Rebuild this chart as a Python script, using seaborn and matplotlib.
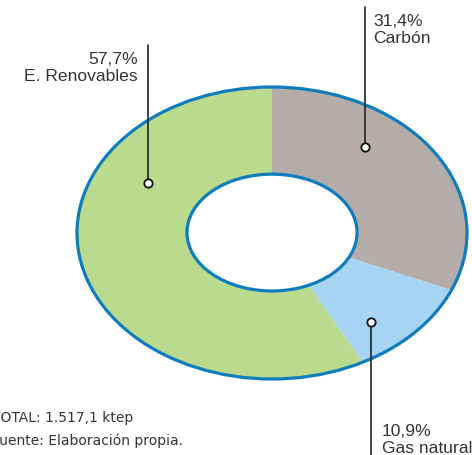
import numpy as np
import matplotlib.pyplot as plt
import matplotlib.patches as mpatches
import seaborn as sns

categorias = ["Carbón", "Gas natural", "E. Renovables"]
porcentajes = [31.4, 10.9, 57.7]
etiquetas_pct = ["31,4%", "10,9%", "57,7%"]
colores = ["#b3aca8", "#a6d4f2", "#badb8e"]
borde = "#0f7cbb"
total_txt = "TOTAL: 1.517,1 ktep"
fuente_txt = "Fuente: Elaboración propia."

sns.set_style("white")
plt.rcParams['font.family'] = ['Liberation Sans', 'DejaVu Sans']

fig = plt.figure(figsize=(4.72, 4.56), dpi=100)
ax = fig.add_axes([77 / 472, 76 / 456, 390 / 472, 292 / 456])

ax.pie(porcentajes, colors=colores, startangle=90, counterclock=False,
       radius=1, wedgeprops=dict(linewidth=0))
# contorno exterior y hueco central (eliptico)
ax.add_patch(mpatches.Circle((0, 0), 1, fill=False, ec=borde, lw=2.3,
                             clip_on=False, zorder=3))
ax.add_patch(mpatches.Ellipse((0, 0.003), 2 * 0.436, 2 * 0.40, fc='white',
                              ec=borde, lw=2.3, clip_on=False, zorder=3))
ax.set_aspect('auto')
ax.set_xlim(-1, 1)
ax.set_ylim(-1, 1)
ax.axis('off')

# etiquetas con linea y punto
anot = [
    # (punto x, punto y, fin linea y, texto x, texto y, ha)
    (0.477, 0.589, 1.55, 0.518, 1.51, 'left'),
    (0.508, -0.610, -1.7, 0.564, -1.30, 'left'),
    (-0.636, 0.342, 1.29, -0.687, 1.25, 'right'),
]
for (px, py, ly, tx, ty, ha), cat, pct in zip(anot, categorias, etiquetas_pct):
    ax.plot([px, px], [py, ly], color="#222222", lw=1.2, clip_on=False, zorder=5)
    ax.plot(px, py, 'o', ms=6, mfc='white', mec='#111111', mew=1.3,
            clip_on=False, zorder=6)
    ax.text(tx, ty, f"{pct}\n{cat}", ha=ha, va='top', fontsize=12.6,
            color="#333333", linespacing=1.2, clip_on=False)

fig.text(-8.5 / 472, 0.075, total_txt, fontsize=10, color="#333333",
         family='DejaVu Sans')
fig.text(-8.5 / 472, 0.024, fuente_txt, fontsize=10, color="#333333",
         family='DejaVu Sans')

fig.savefig("out.png", dpi=100)
